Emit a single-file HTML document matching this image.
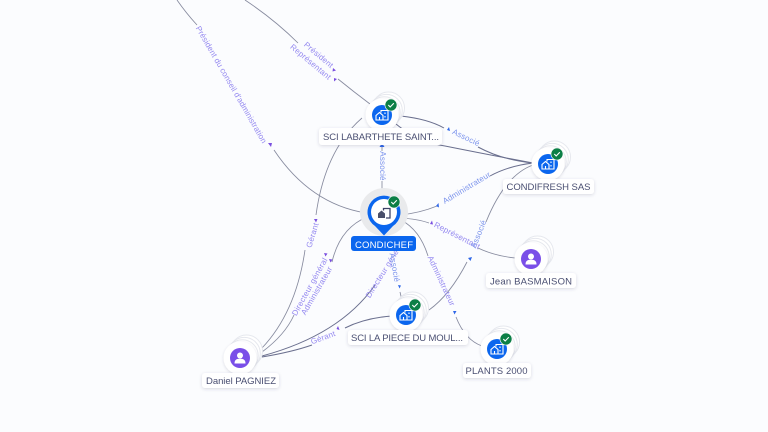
<!DOCTYPE html>
<html><head><meta charset="utf-8"><style>
html,body{margin:0;padding:0;background:#fbfcfe}
svg{display:block}
text{font-family:"Liberation Sans",sans-serif}
.e{fill:none;stroke:#868a9e;stroke-width:.85}
.d{fill:none;stroke:#6a6f8e;stroke-width:1}
.lp{font-size:8px;fill:#9488f0;text-anchor:middle;letter-spacing:.2px}
.lb{font-size:8px;fill:#7b93ec;text-anchor:middle;letter-spacing:.2px}
.n{font-size:9.5px;fill:#4a4f72;text-anchor:middle}
.box{fill:#fff;filter:url(#s)}
.st{fill:#fff;stroke:#e6e8ee;stroke-width:1}
.ab{fill:#2f67e8}.ap{fill:#7a4fe0}
</style></head><body>
<svg width="768" height="432" viewBox="0 0 768 432" xmlns="http://www.w3.org/2000/svg">
<defs>
<filter id="s" x="-20%" y="-40%" width="140%" height="190%"><feDropShadow dx="0" dy="1" stdDeviation="1.6" flood-color="#3a4060" flood-opacity=".18"/></filter>
<filter id="c" x="-30%" y="-30%" width="160%" height="160%"><feDropShadow dx="0" dy="1" stdDeviation="1.2" flood-color="#3a4060" flood-opacity=".18"/></filter>
<g id="bld" fill="none" stroke="#fff" stroke-width="1.1"><path d="M-6 5V0.5L-2.500 -2.500 1 0.500V5H-6Z"/><path d="M-1 -2.500V-4.500H6V5H1"/><path d="M3 -2.500V-1M3 1V2.500M-2.500 2V5"/></g>
<g id="chk"><circle r="6" fill="#0c7f46" stroke="#fff" stroke-width=".6"/><path d="M-2.700 0L-.8 2 2.800-1.800" fill="none" stroke="#fff" stroke-width="1.100"/></g>
<g id="stack"><circle cx="6.500" cy="-7" r="16" class="st"/><circle cx="4.300" cy="-4.600" r="16" class="st"/><circle cx="2.200" cy="-2.300" r="16" class="st"/><circle r="16.500" fill="#fff" filter="url(#c)"/></g>
<g id="co"><use href="#stack"/><circle r="10" fill="#0b66ee"/><use href="#bld"/><use href="#chk" x="9" y="-10"/></g>
<g id="pe"><use href="#stack"/><circle r="10" fill="#7a4fe8"/><circle cy="-2.500" r="3" fill="#fff"/><path d="M-5.500 5.500C-5.500 1.500 -3 .8 0 .8S5.500 1.500 5.500 5.500Z" fill="#fff"/></g>
</defs>
<rect width="768" height="432" fill="#fbfcfe"/>

<!-- edges -->
<path class="e" d="M177 0Q186 13 197 25"/>
<path class="e" d="M274 150Q310 204 366 213"/>
<path class="e" d="M245 0Q275 20 298 43"/>
<path class="e" d="M338 79Q354 92 370 104"/>
<path class="e" d="M382 146V151M382 181V197"/>
<path class="d" d="M401 116Q428 119 444 128"/>
<path class="d" d="M478 147Q502 160 533 163"/>
<path class="d" d="M396 124Q418 142 445 146Q495 156 533 163"/>
<path class="e" d="M400 215Q420 213 437 206"/>
<path class="d" d="M490 176Q508 166 533 163"/>
<path class="e" d="M400 218Q418 219 429 223"/>
<path class="e" d="M478 248Q495 256 515 258"/>
<path class="e" d="M533 165Q505 175 486 222"/>
<path class="e" d="M467 262Q450 295 429 310"/>
<path class="e" d="M401 220Q420 230 428 256"/>
<path class="e" d="M456 317Q465 340 482 346"/>
<path class="e" d="M262 348Q296 312 305 250"/>
<path class="e" d="M316 215Q325 150 362 118"/>
<path class="e" d="M262 352Q285 335 294 315"/>
<path class="e" d="M332 262Q340 228 367 217"/>
<path class="d" d="M262 356Q340 335 375 285"/>
<path class="d" d="M262 357Q292 352 312 345"/>
<path class="d" d="M345 328Q365 318 392 316"/>
<path class="e" d="M400 292Q402 299 401 304"/>

<!-- arrowheads -->
<path class="ap" d="M268 143l4 0-1 4z"/>
<path class="ap" d="M333 68l3 2.500-3.500 1z"/>
<path class="ap" d="M334 78l3 1-3 2.500z"/>
<path class="ab" d="M382 143l2.500 4h-5z"/>
<path class="ab" d="M447 130l2 -3 1 4z"/>
<path class="ab" d="M436 206l2.500-3 .5 4.500z"/>
<path class="ap" d="M430 224l2-3.500 1 4z"/>
<path class="ab" d="M468 258l4-1-1.500 4z"/>
<path class="ab" d="M453 311l3.500 0-2 3.500z"/>
<path class="ap" d="M314 219l3.500 0-1.500 3.500z"/>
<path class="ap" d="M324 253l3.500 .5-2 3z"/>
<path class="ap" d="M329 259l3.500 .5-2 3z"/>
<path class="ab" d="M398 285l3 .5-1.500 3z"/>
<path class="ap" d="M338 326l1.500 4-3 -1z"/>

<!-- edge labels -->
<text class="lp" transform="translate(229,86) rotate(60)" textLength="134">Président du conseil d'administration</text>
<text class="lp" transform="translate(317,57) rotate(40)">Président</text>
<text class="lp" transform="translate(309,64) rotate(40)">Représentant</text>
<text class="lb" transform="translate(380,166) rotate(90)">Associé</text>
<text class="lb" transform="translate(465,140) rotate(26)">Associé</text>
<text class="lb" transform="translate(468,190) rotate(-31)">Administrateur</text>
<text class="lp" transform="translate(456,238) rotate(27)">Représentant</text>
<text class="lb" transform="translate(481,235) rotate(-68)">Associé</text>
<text class="lp" transform="translate(439,282) rotate(65)">Administrateur</text>
<text class="lp" transform="translate(315,236) rotate(-73)">Gérant</text>
<text class="lp" transform="translate(312,288) rotate(-61)">Directeur général</text>
<text class="lp" transform="translate(319,292) rotate(-60)">Administrateur</text>
<text class="lp" transform="translate(387,271) rotate(-58)">Directeur général</text>
<text class="lb" transform="translate(392,268) rotate(80)">Associé</text>
<text class="lp" transform="translate(324,340) rotate(-20)">Gérant</text>

<!-- nodes -->
<use href="#co" x="382" y="115"/>
<rect class="box" x="319" y="128" width="123" height="17" rx="3"/>
<text class="n" x="381" y="140" textLength="116">SCI LABARTHETE SAINT...</text>

<use href="#co" x="548" y="164"/>
<rect class="box" x="503" y="179" width="91" height="15" rx="3"/>
<text class="n" x="548.500" y="190" textLength="84">CONDIFRESH SAS</text>

<use href="#pe" x="531" y="259"/>
<rect class="box" x="486" y="273" width="90" height="15" rx="3"/>
<text class="n" x="531" y="284.500" textLength="82">Jean BASMAISON</text>

<use href="#co" x="497" y="349"/>
<rect class="box" x="463" y="363" width="68" height="15" rx="3"/>
<text class="n" x="496.500" y="374" textLength="62">PLANTS 2000</text>

<use href="#co" x="406" y="315"/>
<rect class="box" x="348" y="330" width="120" height="15" rx="3"/>
<text class="n" x="407" y="341" textLength="112">SCI LA PIECE DU MOUL...</text>

<use href="#pe" x="240" y="358"/>
<rect class="box" x="202" y="373" width="77" height="15" rx="3"/>
<text class="n" x="241" y="384" textLength="70">Daniel PAGNIEZ</text>

<!-- central -->
<circle cx="384" cy="212" r="24" fill="#e9eaec"/>
<path d="M384 235.500L375 226A16.500 16.500 0 1 1 393 226Z" fill="#0b66ee"/>
<circle cx="384" cy="212" r="13" fill="#fff"/>
<g transform="translate(384,213)"><path d="M-6 5V.5L-2.500-2.500 1 .5V5Z" fill="#4a4f6a"/><path d="M-.5-2.500V-4.500H6V5H2" fill="none" stroke="#3f4468" stroke-width="1.300"/></g>
<use href="#chk" x="394" y="202"/>
<rect x="351" y="236" width="65" height="15" rx="3" fill="#0b66ee"/>
<text x="384" y="248" font-size="9.500" fill="#fff" text-anchor="middle" textLength="58">CONDICHEF</text>
</svg>
</body></html>
